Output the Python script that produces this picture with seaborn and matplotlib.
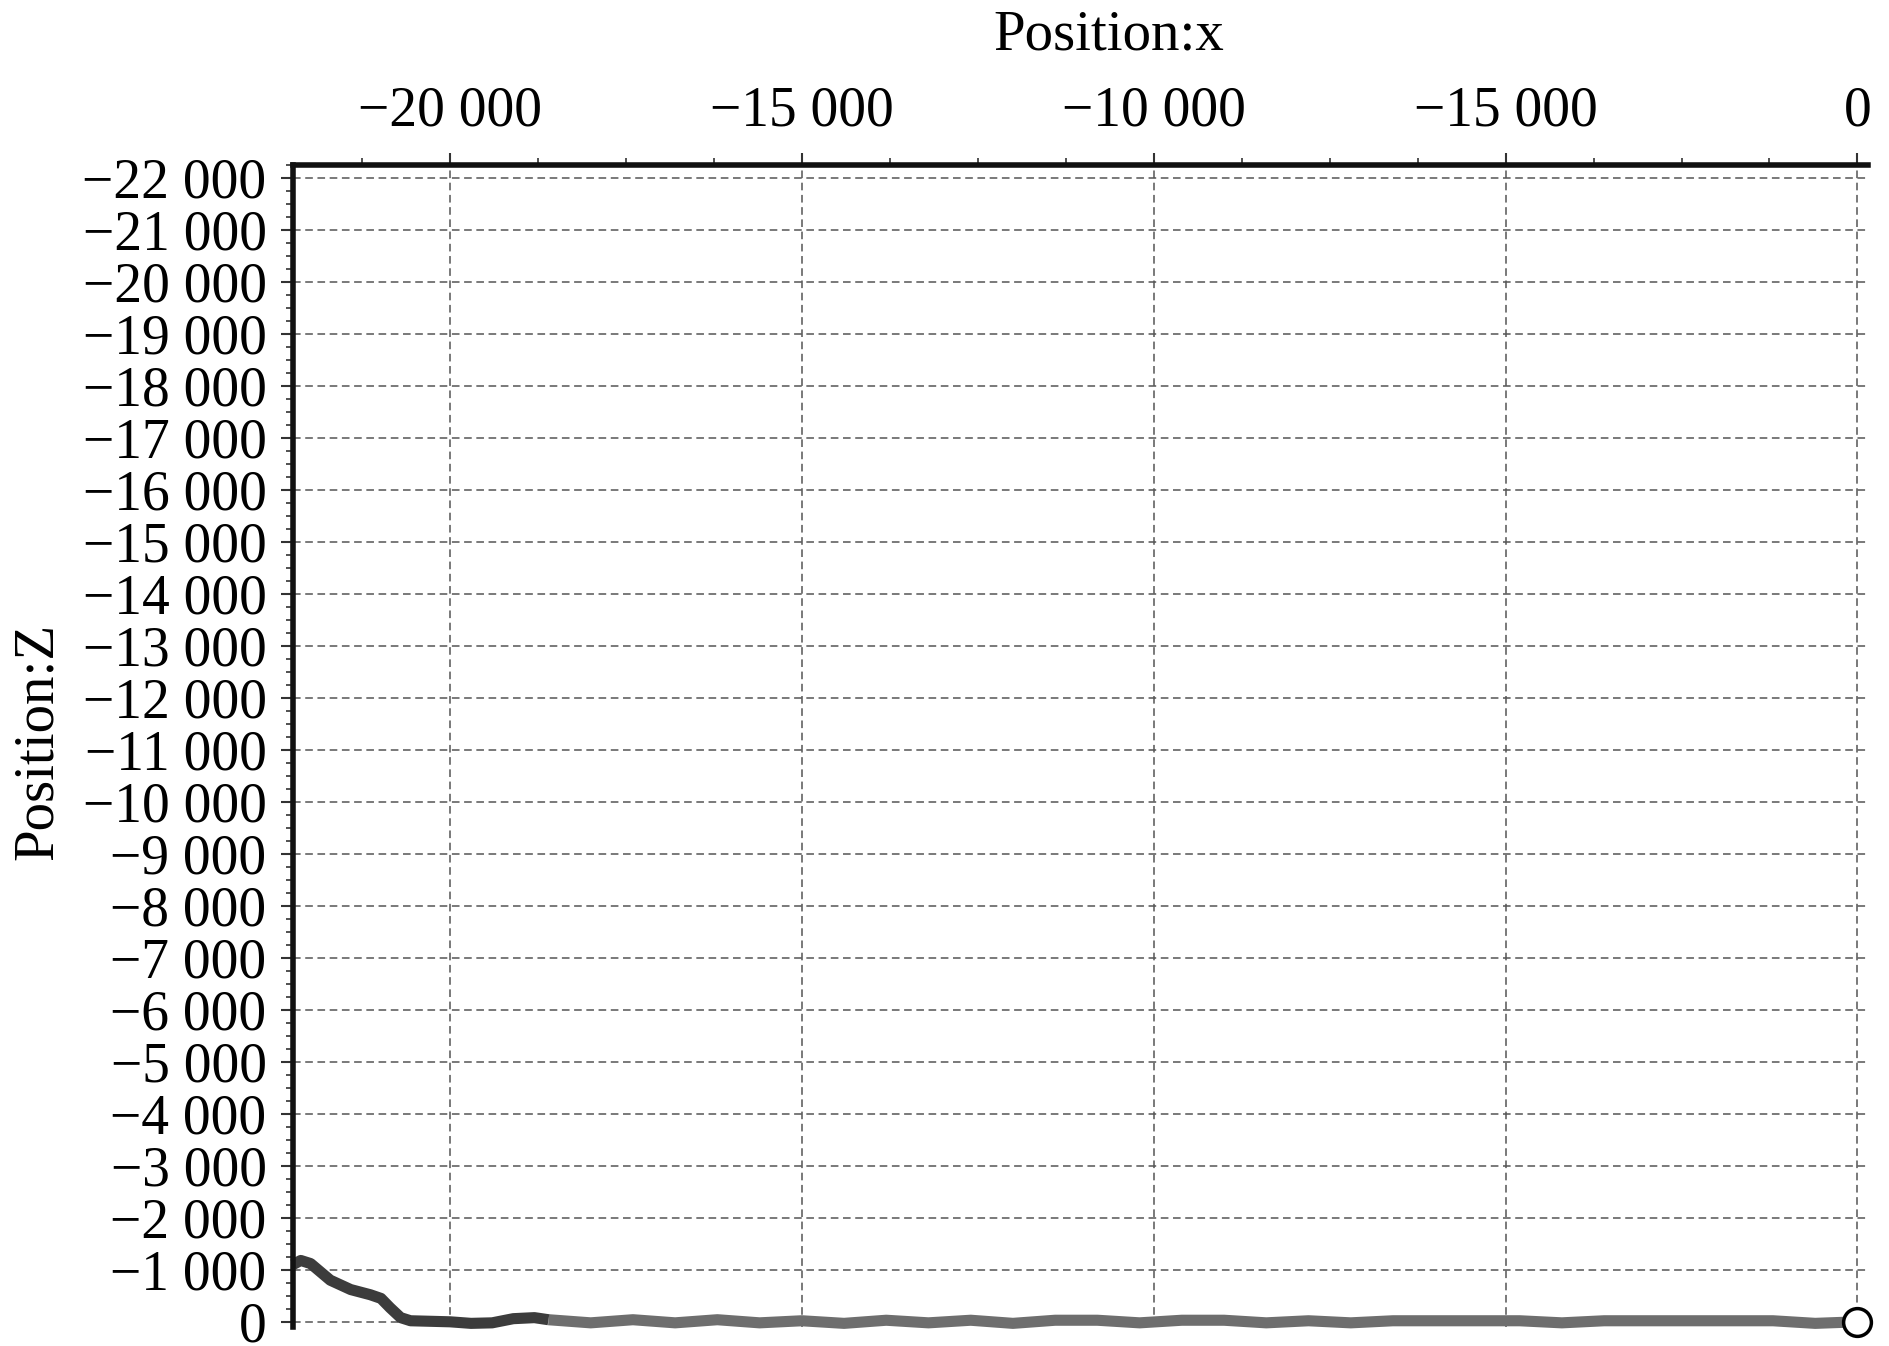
import matplotlib
matplotlib.use("Agg")
import matplotlib.pyplot as plt
from matplotlib.ticker import FixedLocator, MultipleLocator
import pandas as pd
import seaborn as sns

# trajectory (x, z)
pos_x = [-22230, -22120, -21980, -21700, -21410, -21130, -20980, -20850, -20700,
         -20560, -20000, -19700, -19400, -19100, -18800, -18600]
pos_z = [-1100, -1180, -1120, -800, -620, -520, -450, -270, -80,
         -20, 0, 30, 20, -60, -80, -40]
tail_x = [-18600, -18000, -17400, -16800, -16200, -15600, -15000, -14400, -13800,
          -13200, -12600, -12000, -11400, -10800, -10200, -9600, -9000, -8400,
          -7800, -7200, -6600, -6000, -5400, -4800, -4200, -3600, -3000, -2400,
          -1800, -1200, -600, 0]
tail_z = [-40, 20, -40, 20, -40, 20, -20, 30, -30, 20, -30, 30, -30, -30, 20,
          -30, -30, 20, -20, 20, -20, -20, -20, -20, 20, -20, -20, -20,
          -20, -20, 30, 0]

xticks = [-20000, -15000, -10000, -5000, 0]
xtick_labels = ["\u221220 000", "\u221215 000", "\u221210 000", "\u221215 000", "0"]
yticks = list(range(-22000, 1, 1000))
ytick_labels = [("\u2212%d 000" % (abs(v) // 1000)) if v != 0 else "0" for v in yticks]

head = pd.DataFrame({"x": pos_x, "z": pos_z})
tail = pd.DataFrame({"x": tail_x, "z": tail_z})

sns.set_style("ticks")
plt.rcParams["font.family"] = ["Liberation Serif", "DejaVu Serif"]
plt.rcParams["text.color"] = "black"
plt.rcParams["axes.labelcolor"] = "black"
plt.rcParams["xtick.color"] = "black"
plt.rcParams["ytick.color"] = "black"

fig = plt.figure(figsize=(18.9, 13.46), dpi=100)
top_px, bot_px, left_px, right_px = 165, 1327, 293, 1868
ax = fig.add_axes([left_px / 1890, (1346 - bot_px) / 1346,
                   (right_px - left_px) / 1890, (bot_px - top_px) / 1346])

sns.lineplot(data=tail, x="x", y="z", ax=ax, color="#6e6e6e", linewidth=8,
             sort=False, estimator=None, solid_capstyle="butt")
sns.lineplot(data=head, x="x", y="z", ax=ax, color="#3c3c3c", linewidth=8,
             sort=False, estimator=None, solid_capstyle="butt")
for ln in ax.get_lines():
    ln.set_clip_on(False)
ax.plot([tail_x[-1]], [tail_z[-1]], marker="o", markersize=20, markerfacecolor="white",
        markeredgecolor="black", markeredgewidth=2.5, clip_on=False, zorder=5)

ax.set_xlim(-22230, 150)
ax.set_ylim(100, -22250)

ax.xaxis.tick_top()
ax.xaxis.set_label_position("top")
ax.xaxis.set_major_locator(FixedLocator(xticks))
ax.set_xticklabels(xtick_labels)
ax.xaxis.set_minor_locator(MultipleLocator(1250))
ax.yaxis.set_major_locator(FixedLocator(yticks))
ax.set_yticklabels(ytick_labels)
ax.yaxis.set_minor_locator(MultipleLocator(250))

ax.tick_params(axis="both", which="major", labelsize=40, width=1.5, length=9,
               color="#333333", labelcolor="black")
ax.tick_params(axis="x", which="major", pad=11)
ax.tick_params(axis="y", which="major", pad=10)
ax.tick_params(axis="both", which="minor", width=1.2, length=5, color="#333333")

for side in ["right", "bottom"]:
    ax.spines[side].set_visible(False)
for side in ["left", "top"]:
    ax.spines[side].set_linewidth(4)
    ax.spines[side].set_color("#111111")

ax.grid(True, which="major", color="#555555", linestyle=(0, (5, 3)), linewidth=1.1)

h_px = bot_px - top_px
ax.set_xlabel("Position:x", fontsize=41, color="black")
ax.xaxis.set_label_coords((1109 - left_px) / (right_px - left_px), 1 + (top_px - 10) / h_px)
ax.xaxis.label.set_va("top")
ax.set_ylabel("Position:Z", fontsize=41, color="black")
ax.yaxis.set_label_coords(-(left_px - 38) / (right_px - left_px), (bot_px - 741) / h_px)
ax.yaxis.label.set_va("center")

plt.savefig("out.png", dpi=100)
